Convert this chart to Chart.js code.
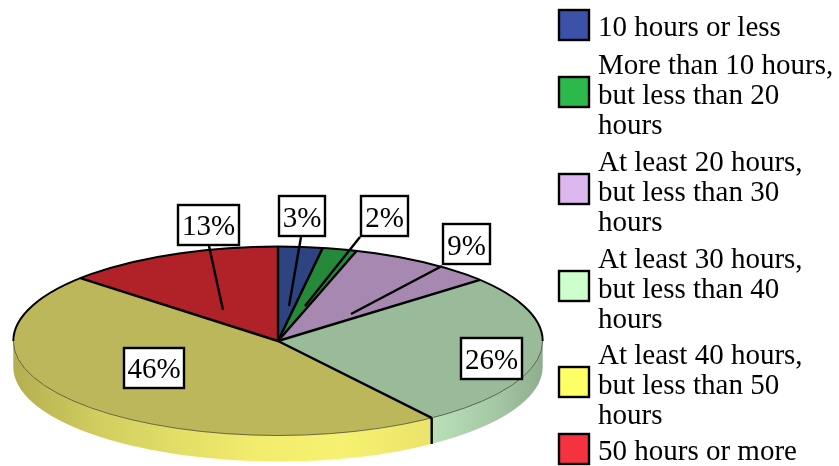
<!DOCTYPE html>
<html>
<head>
<meta charset="utf-8">
<style>html,body{margin:0;padding:0;background:#fff}#wrap{position:relative;width:839px;height:466px}</style>
<script src="https://cdn.jsdelivr.net/npm/chart.js@4"></script>
</head>
<body>
<div id="wrap"><canvas id="c" width="839" height="466"></canvas></div>
<script>
const categories = [
  "10 hours or less",
  "More than 10 hours,\nbut less than 20\nhours",
  "At least 20 hours,\nbut less than 30\nhours",
  "At least 30 hours,\nbut less than 40\nhours",
  "At least 40 hours,\nbut less than 50\nhours",
  "50 hours or more"
];
const shares = [2.7, 2.1, 9.0, 26.3, 46.4, 13.4];
const legendColors = ["#3C52A8", "#2DB84B", "#DDB8EE", "#CCFFCC", "#FFFF66", "#F5333F"];
const topColors = ["#2E4482", "#248A3A", "#A688B0", "#99BB99", "#BBB75A", "#B12228"];
const wallColors = ["#3C52A8", "#2DB84B", "#DDB8EE", "#C2EBC2", "#F6F170", "#F5333F"];

// layout (not data)
const FONT = '29px "Liberation Serif"';
const SQUASH = 94.5 / 264.7, DEPTH = 26;
const labelBoxes = [[279,196,46,40],[361,196,47,40],[443,224,47,40],[461,338,61,41],[124,348,60,40],[178,205,61,40]];
const labelBaselines = [227,227,255,369,378,235];
const leaders = [[301,237,289,306],[360,237,305,306],[442,266,351,314],null,null,[209,246,223,310]];
const legendBoxes = [[559,10],[559,77],[559,174],[559,271],[559,367],[559,434]];
const legendBaselines = [36,74,171,268,364,460];
const shadeStops = [[0,.73],[.17,.86],[.45,.98],[.62,1],[.80,.95],[.92,.84],[1,.74]];

function shaded(ctx, hex, x0, x1) {
  const g = ctx.createLinearGradient(x0, 0, x1, 0);
  const r = parseInt(hex.slice(1,3),16), gg = parseInt(hex.slice(3,5),16), b = parseInt(hex.slice(5,7),16);
  shadeStops.forEach(([t,m]) => g.addColorStop(t, `rgb(${r*m|0},${gg*m|0},${b*m|0})`));
  return g;
}
const pie3d = {
  id: 'pie3d',
  beforeDatasetsDraw(chart) {
    const ctx = chart.ctx, arcs = chart.getDatasetMeta(0).data;
    const {x, y, outerRadius: R} = arcs[0];
    const ry = R * SQUASH;
    arcs.forEach((a, i) => {
      const s = Math.max(a.startAngle, 0), e = Math.min(a.endAngle, Math.PI);
      if (s >= e) return;
      ctx.beginPath();
      ctx.ellipse(x, y, R, ry, 0, s, e);
      ctx.ellipse(x, y + DEPTH, R, ry, 0, e, s, true);
      ctx.closePath();
      ctx.fillStyle = shaded(ctx, wallColors[i], x - R, x + R);
      ctx.fill();
    });
    ctx.save();
    ctx.translate(x, y);
    ctx.scale(1, SQUASH);
    ctx.translate(-x, -y);
  },
  afterDatasetsDraw(chart) {
    const ctx = chart.ctx, arcs = chart.getDatasetMeta(0).data;
    ctx.restore();
    const {x, y, outerRadius: R} = arcs[0];
    const ry = R * SQUASH;
    ctx.save();
    ctx.strokeStyle = 'rgba(70,70,40,.75)';
    ctx.lineWidth = 1;
    ctx.beginPath(); ctx.ellipse(x, y, R, ry, 0, 0, Math.PI); ctx.stroke();
    ctx.strokeStyle = '#000';
    ctx.lineWidth = 2;
    ctx.beginPath(); ctx.ellipse(x, y, R, ry, 0, Math.PI, 2 * Math.PI); ctx.stroke();
    ctx.lineWidth = 2.4;
    arcs.forEach(a => {
      const px = x + R * Math.cos(a.startAngle), py = y + ry * Math.sin(a.startAngle);
      ctx.beginPath(); ctx.moveTo(x, y); ctx.lineTo(px, py); ctx.stroke();
      if (Math.sin(a.startAngle) > 0) {
        ctx.beginPath(); ctx.moveTo(px, py); ctx.lineTo(px, py + DEPTH); ctx.stroke();
      }
    });
    // data labels
    ctx.font = FONT; ctx.textAlign = 'center'; ctx.textBaseline = 'alphabetic';
    ctx.lineWidth = 2.4;
    shares.forEach((v, i) => {
      const [bx, by, bw, bh] = labelBoxes[i];
      if (leaders[i]) {
        const [a, b, c, d] = leaders[i];
        ctx.beginPath(); ctx.moveTo(a, b); ctx.lineTo(c, d); ctx.stroke();
      }
      ctx.fillStyle = '#fff';
      ctx.fillRect(bx, by, bw, bh);
      ctx.strokeRect(bx, by, bw, bh);
      ctx.fillStyle = '#000';
      ctx.fillText(Math.round(v) + '%', bx + bw / 2, labelBaselines[i]);
    });
    // legend
    ctx.textAlign = 'left';
    chart.data.labels.forEach((t, i) => {
      const [bx, by] = legendBoxes[i];
      ctx.fillStyle = legendColors[i];
      ctx.fillRect(bx, by, 30, 30);
      ctx.strokeRect(bx, by, 30, 30);
      ctx.fillStyle = '#000';
      t.split('\n').forEach((line, k) => ctx.fillText(line, 598, legendBaselines[i] + k * 30));
    });
    ctx.restore();
  }
};
new Chart(document.getElementById('c'), {
  type: 'pie',
  data: {
    labels: categories,
    datasets: [{ data: shares, backgroundColor: topColors, borderWidth: 0, clip: false }]
  },
  options: {
    responsive: false,
    animation: false,
    radius: 264.7,
    layout: { padding: { left: 0, right: 283, top: 216, bottom: 0 } },
    plugins: { legend: { display: false }, tooltip: { enabled: false }, title: { display: false } }
  },
  plugins: [pie3d]
});
</script>
</body>
</html>
